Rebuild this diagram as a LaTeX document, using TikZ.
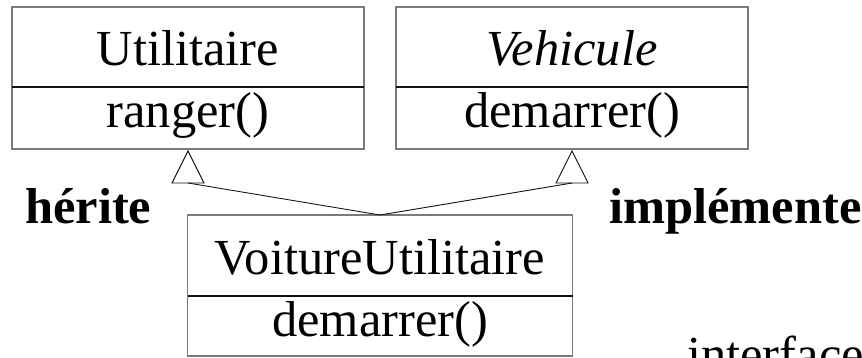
\documentclass[tikz,border=0pt]{standalone}
\usepackage{fontspec}
\setmainfont{Liberation Serif}
\definecolor{frame}{HTML}{7A7A7A}
\definecolor{ink}{HTML}{111111}
\begin{document}
\begin{tikzpicture}[x=1pt,y=1pt,
  font=\fontsize{50.5}{60}\selectfont,
  classbox/.style={draw=frame, line width=1.1pt, inner sep=0pt, outer sep=0pt, anchor=north west},
  divider/.style={draw=ink, line width=1.1pt},
  classtext/.style={anchor=base, inner sep=0pt, text=black},
  tri/.style={draw=ink, line width=0.9pt, line join=miter},
  conn/.style={draw=ink, line width=0.9pt},
  relname/.style={anchor=base west, inner sep=0pt, font=\fontsize{50.5}{60}\selectfont\bfseries}]
\useasboundingbox (0,0) rectangle (862,357);
\clip (0,0) rectangle (862,357);

% class Utilitaire
\node[classbox, minimum width=352pt, minimum height=142pt] (util) at (12,350) {};
\coordinate (utilDivW) at ([yshift=-80pt]util.north west);
\coordinate (utilDivE) at ([yshift=-80pt]util.north east);
\draw[divider] (utilDivW) -- (utilDivE);
\node[classtext] (utilName) at ([yshift=-59pt]util.north) {Utilitaire};
\node[classtext] (utilOp) at ([yshift=-120.5pt]util.north) {ranger()};

% interface Vehicule
\node[classbox, minimum width=352pt, minimum height=142pt] (veh) at (396,350) {};
\coordinate (vehDivW) at ([yshift=-80pt]veh.north west);
\coordinate (vehDivE) at ([yshift=-80pt]veh.north east);
\draw[divider] (vehDivW) -- (vehDivE);
\node[classtext] (vehName) at ([yshift=-59pt]veh.north) {\itshape Vehicule};
\node[classtext] (vehOp) at ([yshift=-120.5pt]veh.north) {demarrer()};

% class VoitureUtilitaire
\node[classbox, minimum width=385pt, minimum height=141pt] (voit) at (187.5,142) {};
\coordinate (voitDivW) at ([yshift=-81pt]voit.north west);
\coordinate (voitDivE) at ([yshift=-81pt]voit.north east);
\draw[divider] (voitDivW) -- (voitDivE);
\node[classtext] (voitName) at ([yshift=-59pt]voit.north) {VoitureUtilitaire};
\node[classtext] (voitOp) at ([yshift=-121.5pt]voit.north) {demarrer()};

% generalisation triangles under the parents
\coordinate (utilApex) at ([yshift=-2pt]util.south);
\coordinate (utilBase) at ([yshift=-32pt]utilApex);
\draw[tri] (utilApex) -- ([xshift=-16pt]utilBase) -- ([xshift=16pt]utilBase) -- cycle;
\coordinate (vehApex) at ([yshift=-2pt]veh.south);
\coordinate (vehBase) at ([yshift=-32pt]vehApex);
\draw[tri] (vehApex) -- ([xshift=-16pt]vehBase) -- ([xshift=16pt]vehBase) -- cycle;

% connectors
\draw[conn] (voit.north) -- (utilBase);
\draw[conn] (voit.north) -- (vehBase);

% relation names
\node[relname] (herite) at (25,134) {hérite};
\node[relname] (implemente) at (609,134) {implémente};
\node[classtext, anchor=base west] (iface) at (687,-14) {interface};
\end{tikzpicture}
\end{document}
